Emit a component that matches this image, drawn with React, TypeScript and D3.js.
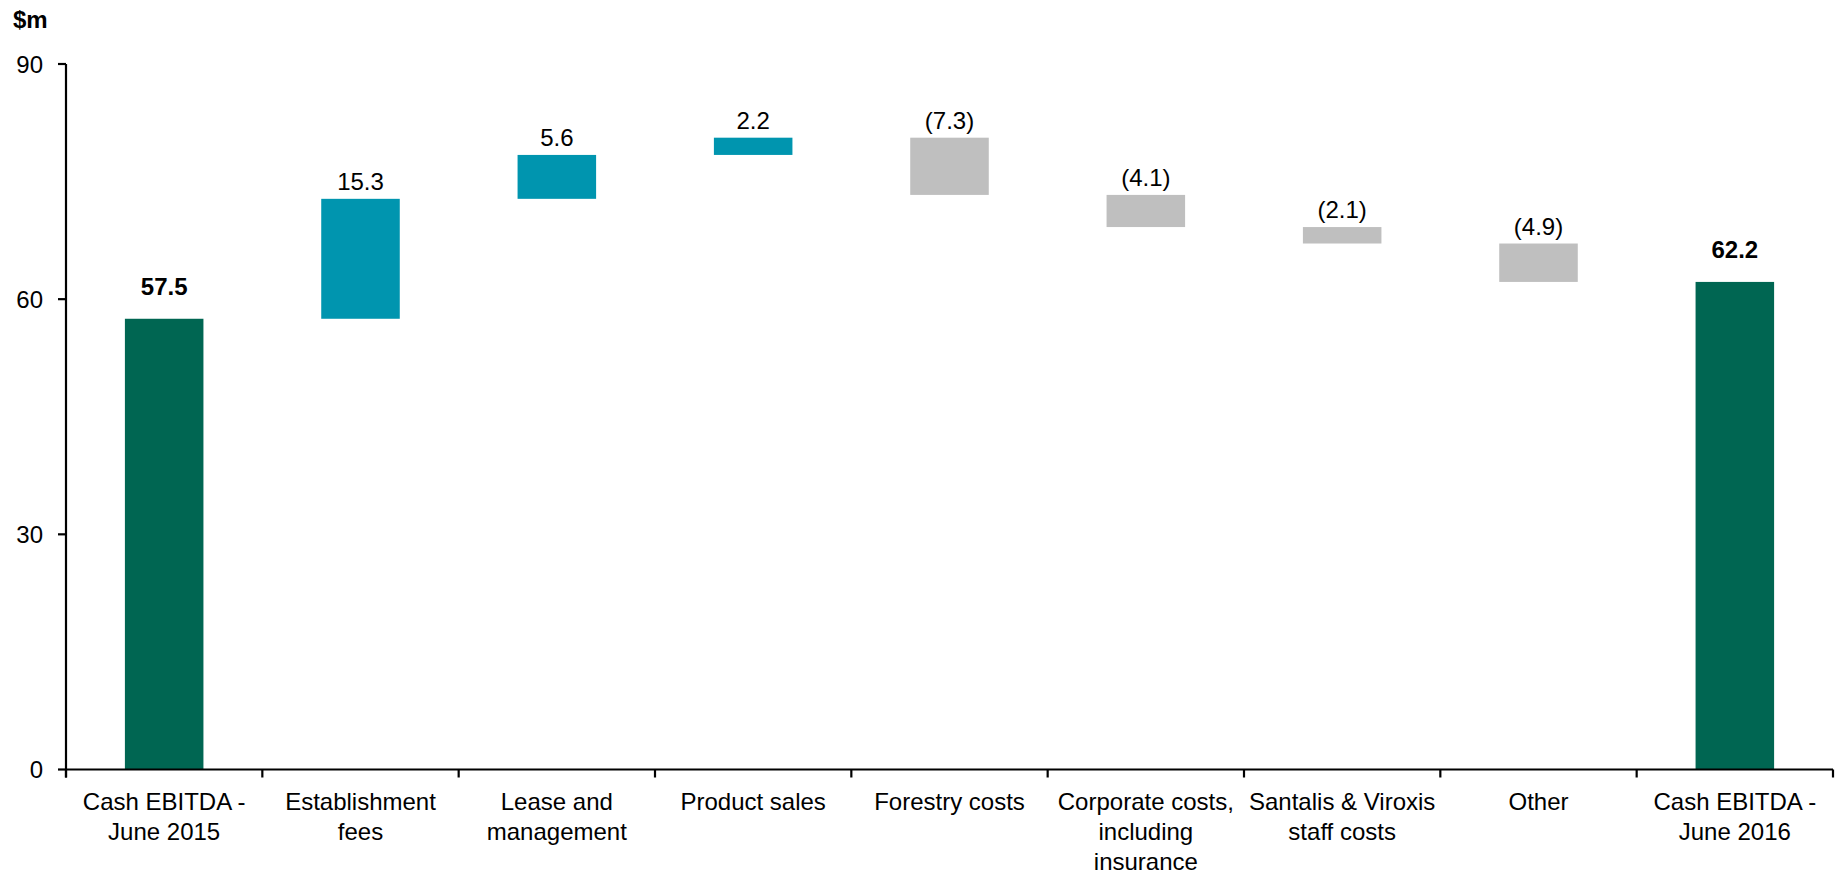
import React, { useEffect, useRef } from "react";
import * as d3 from "d3";

const categories: string[][] = [
  ["Cash EBITDA -", "June 2015"],
  ["Establishment", "fees"],
  ["Lease and", "management"],
  ["Product sales"],
  ["Forestry costs"],
  ["Corporate costs,", "including", "insurance"],
  ["Santalis & Viroxis", "staff costs"],
  ["Other"],
  ["Cash EBITDA -", "June 2016"],
];
const values: number[] = [57.5, 15.3, 5.6, 2.2, -7.3, -4.1, -2.1, -4.9, 62.2];
const isTotal: boolean[] = [true, false, false, false, false, false, false, false, true];
const labels: string[] = ["57.5", "15.3", "5.6", "2.2", "(7.3)", "(4.1)", "(2.1)", "(4.9)", "62.2"];
const yTicks: number[] = [0, 30, 60, 90];
const yUnit = "$m";

const W = 1837;
const H = 876;
const FONT = "'Liberation Sans', Arial, sans-serif";
const C_TOTAL = "#006652";
const C_UP = "#0095AF";
const C_DOWN = "#BFBFBF";

export default function App() {
  const ref = useRef<SVGSVGElement | null>(null);

  useEffect(() => {
    document.body.style.margin = "0";
    document.body.style.overflow = "hidden";
    const svg = d3.select(ref.current);
    svg.selectAll("*").remove();

    const left = 66, right = 1833, top = 64, bottom = 769.5;
    const x = d3.scaleBand<number>().domain(d3.range(values.length)).range([left, right]).padding(0);
    const y = d3.scaleLinear().domain([0, 90]).range([bottom, top]);
    const bw = x.bandwidth() * 0.4;

    let run = 0;
    const bars = values.map((v, i) => {
      let y0: number, y1: number;
      if (isTotal[i]) {
        y0 = 0; y1 = v; run = v;
      } else {
        y0 = run; y1 = run + v; run = y1;
      }
      return { i, lo: Math.min(y0, y1), hi: Math.max(y0, y1), v };
    });

    const g = svg.append("g");
    g.selectAll("rect.bar")
      .data(bars)
      .enter()
      .append("rect")
      .attr("x", (d) => (x(d.i) as number) + x.bandwidth() / 2 - bw / 2)
      .attr("width", bw)
      .attr("y", (d) => y(d.hi))
      .attr("height", (d) => y(d.lo) - y(d.hi))
      .attr("fill", (d) => (isTotal[d.i] ? C_TOTAL : d.v >= 0 ? C_UP : C_DOWN));

    g.selectAll("text.val")
      .data(bars)
      .enter()
      .append("text")
      .attr("x", (d) => (x(d.i) as number) + x.bandwidth() / 2)
      .attr("y", (d) => y(d.hi) - (isTotal[d.i] ? 24 : 9))
      .attr("text-anchor", "middle")
      .attr("font-family", FONT)
      .attr("font-size", 24)
      .attr("font-weight", (d) => (isTotal[d.i] ? "bold" : "normal"))
      .attr("fill", "#000")
      .text((d) => labels[d.i]);

    const ya = svg.append("g");
    ya.append("line").attr("x1", left).attr("x2", left).attr("y1", top).attr("y2", bottom + 8)
      .attr("stroke", "#000").attr("stroke-width", 2.2);
    yTicks.forEach((t) => {
      ya.append("line").attr("x1", left - 8).attr("x2", left).attr("y1", y(t)).attr("y2", y(t))
        .attr("stroke", "#000").attr("stroke-width", 2.2);
      ya.append("text").attr("x", left - 23).attr("y", y(t) + 8.5).attr("text-anchor", "end")
        .attr("font-family", FONT).attr("font-size", 24).attr("fill", "#000").text(String(t));
    });
    svg.append("text").attr("x", 13).attr("y", 28).attr("font-family", FONT)
      .attr("font-size", 24).attr("font-weight", "bold").attr("fill", "#000").text(yUnit);

    const xa = svg.append("g");
    xa.append("line").attr("x1", left).attr("x2", right).attr("y1", bottom).attr("y2", bottom)
      .attr("stroke", "#000").attr("stroke-width", 2.2);
    for (let i = 0; i <= values.length; i++) {
      const px = i < values.length ? (x(i) as number) : right;
      xa.append("line").attr("x1", px).attr("x2", px).attr("y1", bottom).attr("y2", bottom + 8)
        .attr("stroke", "#000").attr("stroke-width", 2.2);
    }
    categories.forEach((lines, i) => {
      const cx = (x(i) as number) + x.bandwidth() / 2;
      const t = xa.append("text")
        .attr("x", cx)
        .attr("y", 810)
        .attr("text-anchor", "middle")
        .attr("font-family", FONT)
        .attr("font-size", 24)
        .attr("fill", "#000");
      lines.forEach((l, k) => {
        t.append("tspan").attr("x", cx).attr("y", 810 + k * 30).text(l);
      });
    });
  }, []);

  return (
    <svg ref={ref} width={W} height={H} style={{ display: "block", position: "absolute", left: 0, top: 0, background: "#fff" }} />
  );
}
